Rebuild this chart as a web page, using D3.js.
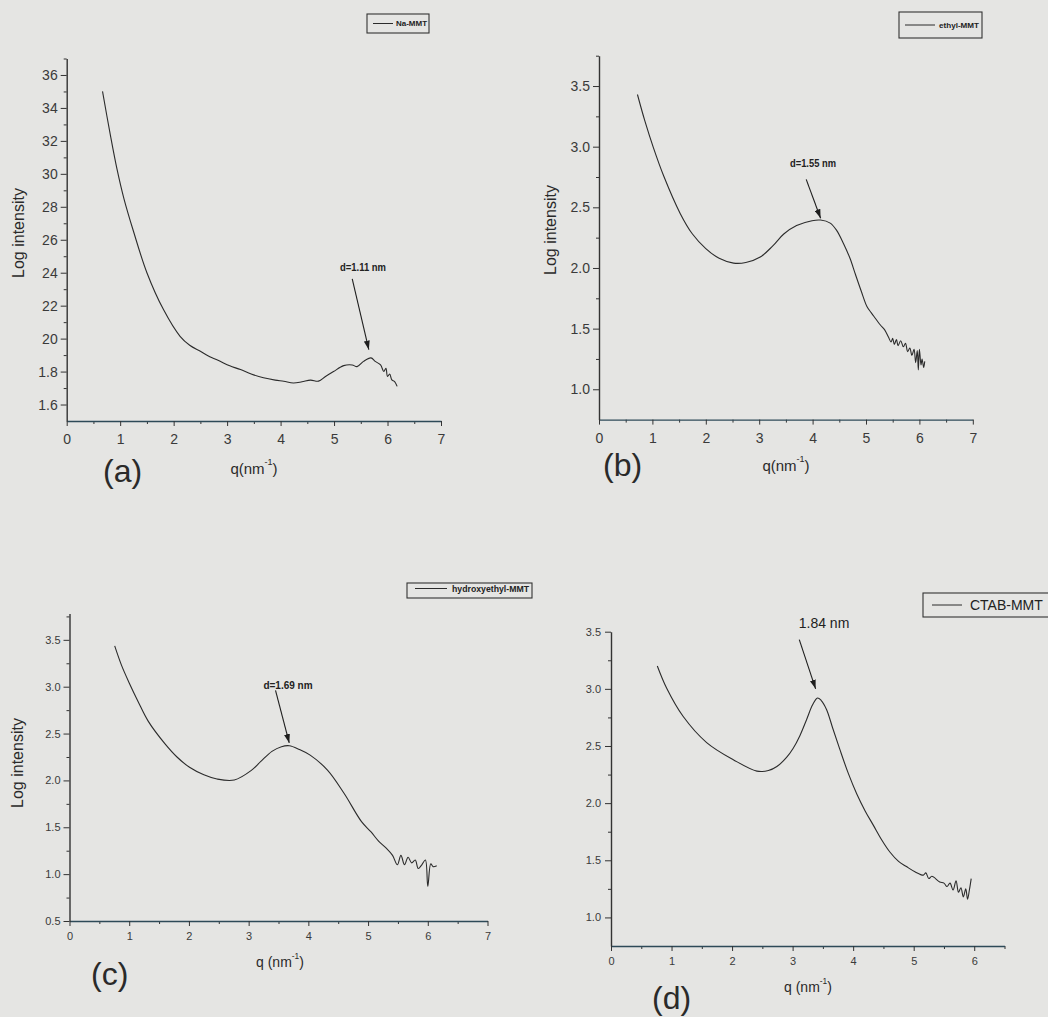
<!DOCTYPE html>
<html>
<head>
<meta charset="utf-8">
<script src="https://cdn.jsdelivr.net/npm/d3@7"></script>
<style>
  body { margin: 0; background: #e5e5e3; }
  svg { display: block; }
</style>
</head>
<body>
<div id="fig"></div>
<script>
// Values (q in nm^-1, log intensity)
const qA = [0.67, 0.81, 0.94, 1.07, 1.25, 1.5, 1.81, 2.12, 2.3, 2.5, 2.65, 2.87, 3.05, 3.25, 3.45, 3.68, 3.9, 4.06, 4.24, 4.4, 4.56, 4.71, 4.84, 4.99, 5.18, 5.34, 5.43, 5.55, 5.69, 5.77, 5.87, 5.93, 5.97, 6.0, 6.04, 6.08, 6.13, 6.18]
const yA = [3.5, 3.247, 3.03, 2.85, 2.65, 2.4, 2.176, 2.014, 1.96, 1.923, 1.895, 1.862, 1.835, 1.812, 1.785, 1.762, 1.748, 1.741, 1.731, 1.738, 1.748, 1.742, 1.77, 1.80, 1.836, 1.84, 1.83, 1.862, 1.883, 1.862, 1.84, 1.80, 1.82, 1.77, 1.785, 1.75, 1.74, 1.71]

const qB = [0.72, 0.86, 1.02, 1.21, 1.52, 1.75, 2.0, 2.25, 2.52, 2.75, 3.02, 3.25, 3.46, 3.7, 3.99, 4.15, 4.33, 4.45, 4.58, 4.70, 4.80, 4.91, 5.02, 5.1, 5.15, 5.27, 5.35, 5.42, 5.47, 5.5, 5.53, 5.57, 5.6, 5.65, 5.7, 5.74, 5.78, 5.82, 5.86, 5.9, 5.93, 5.96, 5.98, 6.0, 6.03, 6.05, 6.08, 6.1]
const yB = [3.43, 3.21, 2.99, 2.76, 2.45, 2.28, 2.16, 2.08, 2.04, 2.045, 2.09, 2.18, 2.28, 2.35, 2.39, 2.395, 2.37, 2.31, 2.20, 2.08, 1.95, 1.81, 1.68, 1.63, 1.60, 1.53, 1.49, 1.43, 1.39, 1.42, 1.37, 1.41, 1.36, 1.40, 1.35, 1.38, 1.31, 1.34, 1.28, 1.33, 1.22, 1.32, 1.16, 1.33, 1.2, 1.25, 1.18, 1.23]

const qC = [0.757, 0.87, 1.0, 1.15, 1.32, 1.6, 1.8, 2.01, 2.25, 2.47, 2.76, 3.05, 3.2, 3.39, 3.55, 3.68, 3.85, 4.03, 4.32, 4.6, 4.89, 5.05, 5.18, 5.3, 5.41, 5.49, 5.55, 5.61, 5.67, 5.73, 5.79, 5.84, 5.9, 5.96, 6.0, 6.05, 6.09, 6.15]
const yC = [3.435, 3.23, 3.04, 2.84, 2.63, 2.39, 2.25, 2.14, 2.06, 2.015, 2.005, 2.11, 2.2, 2.31, 2.36, 2.37, 2.33, 2.27, 2.11, 1.86, 1.56, 1.45, 1.35, 1.28, 1.20, 1.10, 1.20, 1.10, 1.18, 1.12, 1.15, 1.06, 1.10, 1.15, 0.87, 1.11, 1.08, 1.09]

const qD = [0.765, 0.92, 1.19, 1.58, 2.02, 2.41, 2.6, 2.74, 2.9, 3.01, 3.12, 3.23, 3.33, 3.41, 3.47, 3.56, 3.66, 3.78, 3.92, 4.06, 4.2, 4.33, 4.47, 4.61, 4.75, 4.88, 5.02, 5.16, 5.2, 5.25, 5.3, 5.43, 5.5, 5.55, 5.6, 5.65, 5.7, 5.74, 5.78, 5.82, 5.86, 5.89, 5.92, 5.95]
const yD = [3.20, 3.005, 2.76, 2.53, 2.38, 2.28, 2.285, 2.32, 2.40, 2.48, 2.59, 2.73, 2.86, 2.92, 2.90, 2.82, 2.66, 2.47, 2.26, 2.08, 1.93, 1.81, 1.68, 1.57, 1.49, 1.445, 1.40, 1.37, 1.39, 1.34, 1.36, 1.31, 1.30, 1.27, 1.30, 1.24, 1.32, 1.22, 1.26, 1.18, 1.25, 1.16, 1.24, 1.34]

// Tick values and labels (the scan of panel a drops most decimal points)
const xTicks7 = [0, 1, 2, 3, 4, 5, 6, 7]
const xMinor7 = [0.5, 1.5, 2.5, 3.5, 4.5, 5.5, 6.5]
const xTicksD = [0, 1, 2, 3, 4, 5, 6]
const xMinorD = [0.5, 1.5, 2.5, 3.5, 4.5, 5.5, 6.5]

const yTicksA = [1.6, 1.8, 2.0, 2.2, 2.4, 2.6, 2.8, 3.0, 3.2, 3.4, 3.6]
const yLabelsA = ["1.6", "1.8", "20", "22", "24", "26", "28", "30", "32", "34", "36"]
const yMinorA = [1.7, 1.9, 2.1, 2.3, 2.5, 2.7, 2.9, 3.1, 3.3, 3.5, 3.7]

const yTicksB = [1.0, 1.5, 2.0, 2.5, 3.0, 3.5]
const yLabelsB = ["1.0", "1.5", "2.0", "2.5", "3.0", "3.5"]
const yMinorB = [1.25, 1.75, 2.25, 2.75, 3.25, 3.75]

const yTicksC = [0.5, 1.0, 1.5, 2.0, 2.5, 3.0, 3.5]
const yLabelsC = ["0.5", "1.0", "1.5", "2.0", "2.5", "3.0", "3.5"]
const yMinorC = [0.75, 1.25, 1.75, 2.25, 2.75, 3.25, 3.75]

const yTicksD = [1.0, 1.5, 2.0, 2.5, 3.0, 3.5]
const yLabelsD = ["1.0", "1.5", "2.0", "2.5", "3.0", "3.5"]
const yMinorD = [1.25, 1.75, 2.25, 2.75, 3.25]

const legendNames = ["Na-MMT", "ethyl-MMT", "hydroxyethyl-MMT", "CTAB-MMT"]
const peakLabels = ["d=1.11 nm", "d=1.55 nm", "d=1.69 nm", "1.84 nm"]
// arrow tail and head in data units [q0, v0, q1, v1]
const peakArrows = [[5.34, 2.362, 5.65, 1.933], [3.88, 2.73, 4.15, 2.41], [3.45, 2.96, 3.68, 2.40], [3.11, 3.43, 3.38, 3.00]]

const FONT = "'Liberation Sans', Arial, sans-serif"
const INK = "#2b2b2b"

const svg = d3.select("#fig").append("svg")
  .attr("width", 1048)
  .attr("height", 1017)
  .style("font-family", FONT)

svg.append("rect").attr("width", 1048).attr("height", 1017).attr("fill", "#e5e5e3")

svg.append("defs").append("marker")
    .attr("id", "head")
    .attr("viewBox", "0 0 10 10")
    .attr("refX", 10).attr("refY", 5)
    .attr("markerWidth", 9).attr("markerHeight", 6)
    .attr("markerUnits", "userSpaceOnUse")
    .attr("preserveAspectRatio", "none")
    .attr("orient", "auto")
  .append("path")
    .attr("d", "M0,0L10,5L0,10z")
    .attr("fill", "#1e1e1e")

const panels = [
  {q: qA, v: yA, xDomain: [0, 7], yDomain: [1.5, 3.7], xRange: [66.7, 441], yRange: [421, 58.5],
   xTicks: xTicks7, xMinor: xMinor7, yTicks: yTicksA, yLabels: yLabelsA, yMinor: yMinorA,
   tickFont: 14, xPad: 8, yPad: 3,
   letter: "(a)", letterPos: [103, 482],
   xLabel: "q(nm", xLabelPos: [254, 468], xLabelFont: 15,
   yLabelPos: [18, 233],
   legend: {box: [367, 14, 62, 19], line: [373, 393, 23.5], tx: 396, tw: 31, fs: 8, bold: true},
   peak: {pos: [363, 267], fs: 11, bold: true, tw: 46}},
  {q: qB, v: yB, xDomain: [0, 7], yDomain: [0.75, 3.75], xRange: [599, 972.8], yRange: [419.6, 55.7],
   xTicks: xTicks7, xMinor: xMinor7, yTicks: yTicksB, yLabels: yLabelsB, yMinor: yMinorB,
   tickFont: 14, xPad: 8, yPad: 3,
   letter: "(b)", letterPos: [603, 476],
   xLabel: "q(nm", xLabelPos: [786, 465], xLabelFont: 15,
   yLabelPos: [550, 230],
   legend: {box: [899, 12, 83, 26], line: [905, 935, 25], tx: 939, tw: 40, fs: 8, bold: true},
   peak: {pos: [813, 163], fs: 11, bold: true, tw: 46}},
  {q: qC, v: yC, xDomain: [0, 7], yDomain: [0.5, 3.78], xRange: [69.5, 487.5], yRange: [921, 613.6],
   xTicks: xTicks7, xMinor: xMinor7, yTicks: yTicksC, yLabels: yLabelsC, yMinor: yMinorC,
   tickFont: 11, xPad: 6, yPad: 3,
   letter: "(c)", letterPos: [91, 985],
   xLabel: "q (nm", xLabelPos: [280, 962], xLabelFont: 14,
   yLabelPos: [17, 763],
   legend: {box: [407, 583, 125, 15], line: [415, 447, 588.5], tx: 452, tw: 77, fs: 8.5, bold: true},
   peak: {pos: [288, 685], fs: 10, bold: true, tw: null}},
  {q: qD, v: yD, xDomain: [0, 6.5], yDomain: [0.75, 3.5], xRange: [611, 1004.5], yRange: [946, 631.7],
   xTicks: xTicksD, xMinor: xMinorD, yTicks: yTicksD, yLabels: yLabelsD, yMinor: yMinorD,
   tickFont: 11, xPad: 6, yPad: 4,
   letter: "(d)", letterPos: [652, 1009],
   xLabel: "q (nm", xLabelPos: [808, 987], xLabelFont: 14,
   yLabelPos: null,
   legend: {box: [923, 593, 135, 24], line: [932, 962, 605], tx: 970, tw: null, fs: 14, bold: false},
   peak: {pos: [824, 623], fs: 14, bold: false, tw: null}}
]

function styleAxis(g, fontSize, domainColor) {
  g.attr("font-family", FONT).attr("font-size", fontSize)
  g.select(".domain").attr("stroke", domainColor).attr("stroke-width", 1.4)
  g.selectAll(".tick line").attr("stroke", "#333").attr("stroke-width", 1)
  g.selectAll(".tick text").attr("fill", "#3a3a3a")
}

function drawPanel(p, i) {
  const x = d3.scaleLinear().domain(p.xDomain).range(p.xRange)
  const y = d3.scaleLinear().domain(p.yDomain).range(p.yRange)
  const g = svg.append("g")

  // minor ticks
  g.append("g")
    .attr("transform", `translate(0,${p.yRange[0]})`)
    .call(d3.axisBottom(x).tickValues(p.xMinor).tickSize(3).tickFormat(""))
    .call(a => a.select(".domain").remove())
    .call(a => a.selectAll("line").attr("stroke", "#333"))
  g.append("g")
    .attr("transform", `translate(${p.xRange[0]},0)`)
    .call(d3.axisLeft(y).tickValues(p.yMinor).tickSize(3).tickFormat(""))
    .call(a => a.select(".domain").remove())
    .call(a => a.selectAll("line").attr("stroke", "#333"))

  // major axes
  g.append("g")
    .attr("transform", `translate(0,${p.yRange[0]})`)
    .call(d3.axisBottom(x).tickValues(p.xTicks).tickSize(5).tickPadding(p.xPad).tickSizeOuter(0).tickFormat(d3.format("d")))
    .call(a => styleAxis(a, p.tickFont, "#2e4a58"))
  g.append("g")
    .attr("transform", `translate(${p.xRange[0]},0)`)
    .call(d3.axisLeft(y).tickValues(p.yTicks).tickSize(6).tickPadding(p.yPad).tickSizeOuter(0)
      .tickFormat((d, k) => p.yLabels[k]))
    .call(a => styleAxis(a, p.tickFont, "#333"))

  // data curve
  const line = d3.line()
    .x(d => x(d[0]))
    .y(d => y(d[1]))
    .curve(d3.curveCatmullRom.alpha(0.5))
  g.append("path")
    .datum(d3.zip(p.q, p.v))
    .attr("fill", "none")
    .attr("stroke", INK)
    .attr("stroke-width", 1.1)
    .attr("stroke-linejoin", "round")
    .attr("d", line)

  // peak arrow and label
  const a = peakArrows[i]
  g.append("line")
    .attr("x1", x(a[0])).attr("y1", y(a[1]))
    .attr("x2", x(a[2])).attr("y2", y(a[3]))
    .attr("stroke", "#1e1e1e")
    .attr("stroke-width", 1.1)
    .attr("marker-end", "url(#head)")
  const pk = g.append("text")
    .attr("x", p.peak.pos[0]).attr("y", p.peak.pos[1])
    .attr("text-anchor", "middle")
    .attr("dominant-baseline", "central")
    .attr("font-size", p.peak.fs)
    .attr("font-weight", p.peak.bold ? "bold" : "normal")
    .attr("fill", "#222")
    .text(peakLabels[i])
  if (p.peak.tw) pk.attr("textLength", p.peak.tw).attr("lengthAdjust", "spacingAndGlyphs")

  // legend
  const L = p.legend
  g.append("rect")
    .attr("x", L.box[0]).attr("y", L.box[1])
    .attr("width", L.box[2]).attr("height", L.box[3])
    .attr("fill", "none").attr("stroke", "#333").attr("stroke-width", 1.1)
  g.append("line")
    .attr("x1", L.line[0]).attr("x2", L.line[1])
    .attr("y1", L.line[2]).attr("y2", L.line[2])
    .attr("stroke", INK).attr("stroke-width", 1)
  const lt = g.append("text")
    .attr("x", L.tx).attr("y", L.line[2])
    .attr("dominant-baseline", "central")
    .attr("font-size", L.fs)
    .attr("font-weight", L.bold ? "bold" : "normal")
    .attr("fill", "#222")
    .text(legendNames[i])
  if (L.tw) lt.attr("textLength", L.tw).attr("lengthAdjust", "spacingAndGlyphs")

  // panel letter
  g.append("text")
    .attr("x", p.letterPos[0]).attr("y", p.letterPos[1])
    .attr("font-size", 32)
    .attr("fill", "#2a2a2a")
    .text(p.letter)

  // axis titles
  const xt = g.append("text")
    .attr("x", p.xLabelPos[0]).attr("y", p.xLabelPos[1])
    .attr("text-anchor", "middle")
    .attr("dominant-baseline", "central")
    .attr("font-size", p.xLabelFont)
    .attr("fill", "#2a2a2a")
  xt.append("tspan").text(p.xLabel)
  xt.append("tspan").attr("dy", -6).attr("font-size", p.xLabelFont * 0.6).text("-1")
  xt.append("tspan").attr("dy", 6).text(")")

  if (p.yLabelPos) {
    g.append("text")
      .attr("transform", `translate(${p.yLabelPos[0]},${p.yLabelPos[1]}) rotate(-90)`)
      .attr("text-anchor", "middle")
      .attr("dominant-baseline", "central")
      .attr("font-size", 16)
      .attr("fill", "#2a2a2a")
      .text("Log intensity")
  }
}

panels.forEach(drawPanel)
</script>
</body>
</html>
